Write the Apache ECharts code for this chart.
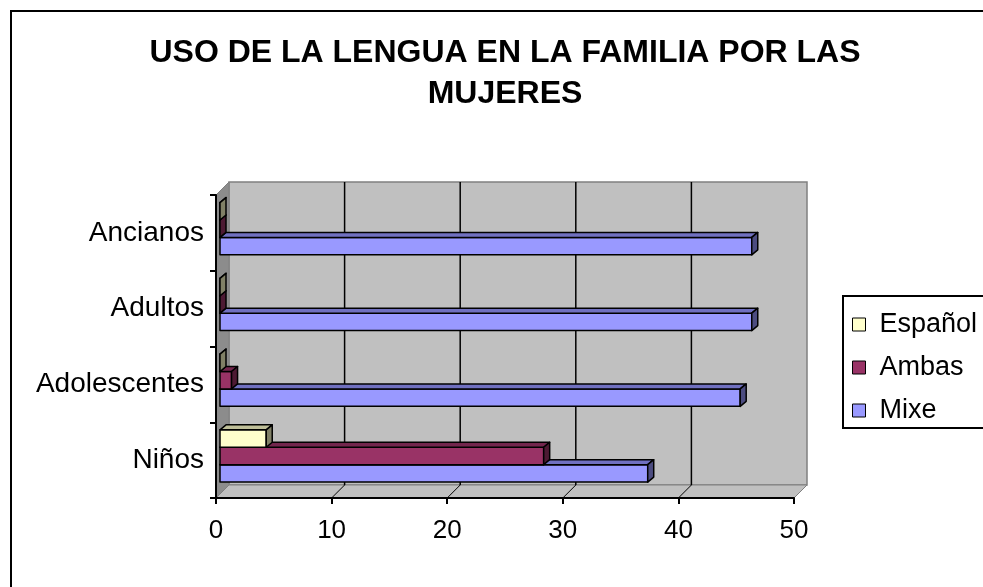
<!DOCTYPE html>
<html>
<head>
<meta charset="utf-8">
<script src="https://cdn.jsdelivr.net/npm/echarts@6/dist/echarts.min.js"></script>
<style>
  html, body { margin: 0; padding: 0; background: #fff; }
  #chart { width: 983px; height: 587px; }
</style>
</head>
<body>
<div id="chart"></div>
<script>
// datos del grafico
const categories = ['Niños', 'Adolescentes', 'Adultos', 'Ancianos'];
const mixe = [37, 45, 46, 46];
const ambas = [28, 1, 0, 0];
const espanol = [4, 0, 0, 0];
const xTicks = [0, 10, 20, 30, 40, 50];

const FONT = 'Arial, "Liberation Sans", sans-serif';
const D = 13; // profundidad de las paredes

const chart = echarts.init(document.getElementById('chart'));

// paredes y piso en 3D
function renderWalls(params, api) {
  const cs = params.coordSys;
  const x = cs.x, y = cs.y, w = cs.width, h = cs.height;
  const children = [
    {
      type: 'rect',
      shape: { x: x + D, y: y - D, width: w, height: h },
      style: { fill: '#C0C0C0', stroke: '#808080', lineWidth: 1.5 }
    },
    {
      type: 'polygon',
      shape: { points: [[x, y], [x + D, y - D], [x + D, y + h - D], [x, y + h]] },
      style: { fill: '#8C8C8C', stroke: '#808080', lineWidth: 1 }
    },
    {
      type: 'polygon',
      shape: { points: [[x, y + h], [x + D, y + h - D], [x + w + D, y + h - D], [x + w, y + h]] },
      style: { fill: '#C0C0C0', stroke: '#808080', lineWidth: 1 }
    }
  ];
  xTicks.forEach(function (v) {
    const p = api.coord([v, 0]);
    if (v > 0 && v < 50) {
      children.push({
        type: 'line',
        shape: { x1: p[0] + D, y1: y - D, x2: p[0] + D, y2: y + h - D },
        style: { stroke: '#000', lineWidth: 1.5 }
      });
      children.push({
        type: 'line',
        shape: { x1: p[0], y1: y + h, x2: p[0] + D, y2: y + h - D },
        style: { stroke: '#000', lineWidth: 1 }
      });
    }
  });
  return { type: 'group', children: children };
}

// barra 3D: slot 0 = abajo
function barRenderer(slot, front, topc, side) {
  return function (params, api) {
    const v = api.value(0), ci = api.value(1);
    const start = api.coord([0, ci]);
    const end = api.coord([v, ci]);
    const band = api.size([0, 1])[1];
    const bh = band * 0.23;
    const bottom = start[1] + band * 0.29 - slot * bh;
    const top = bottom - bh;
    const x0 = start[0] + 4, x1 = end[0] + 4;
    const dx = 6, dy = 5;
    const st = { stroke: '#000', lineWidth: 1.5, lineJoin: 'round' };
    return {
      type: 'group',
      children: [
        {
          type: 'polygon',
          shape: { points: [[x0, top], [x1, top], [x1, bottom], [x0, bottom]] },
          style: Object.assign({ fill: front }, st)
        },
        {
          type: 'polygon',
          shape: { points: [[x0, top], [x0 + dx, top - dy], [x1 + dx, top - dy], [x1, top]] },
          style: Object.assign({ fill: topc }, st)
        },
        {
          type: 'polygon',
          shape: { points: [[x1, top], [x1 + dx, top - dy], [x1 + dx, bottom - dy], [x1, bottom]] },
          style: Object.assign({ fill: side }, st)
        }
      ]
    };
  };
}

function toData(arr) {
  return arr.map(function (v, i) { return [v, i]; });
}

const option = {
  animation: false,
  backgroundColor: '#fff',
  title: {
    text: 'USO DE LA LENGUA EN LA FAMILIA POR LAS\nMUJERES',
    left: 500,
    textAlign: 'center',
    top: 28,
    textStyle: {
      fontFamily: FONT,
      fontSize: 32,
      fontWeight: 'bold',
      color: '#000',
      lineHeight: 41
    }
  },
  graphic: [
    {
      type: 'rect',
      shape: { x: 11, y: 11, width: 1000, height: 600 },
      style: { fill: 'none', stroke: '#000', lineWidth: 2 },
      z: -1
    },
    {
      type: 'rect',
      shape: { x: 843, y: 296, width: 200, height: 132 },
      style: { fill: '#fff', stroke: '#000', lineWidth: 2 },
      z: 0
    }
  ],
  legend: {
    orient: 'vertical',
    left: 852,
    top: 311,
    padding: 0,
    itemWidth: 13,
    itemHeight: 13,
    itemGap: 16,
    icon: 'rect',
    data: ['Español', 'Ambas', 'Mixe'],
    itemStyle: { borderColor: '#000', borderWidth: 1 },
    textStyle: {
      fontFamily: FONT,
      fontSize: 27,
      color: '#000',
      padding: [0, 0, 0, 9]
    },
    z: 5
  },
  grid: {
    left: 216,
    top: 195,
    width: 578,
    height: 303
  },
  xAxis: {
    type: 'value',
    min: 0,
    max: 50,
    interval: 10,
    z: 5,
    splitLine: { show: false },
    axisLine: { show: true, lineStyle: { color: '#000', width: 2 } },
    axisTick: { show: true, length: 6, lineStyle: { color: '#000', width: 2 } },
    axisLabel: { fontFamily: FONT, fontSize: 26, color: '#000', margin: 20 }
  },
  yAxis: {
    type: 'category',
    data: categories,
    z: 5,
    axisLine: { show: true, lineStyle: { color: '#000', width: 2 } },
    axisTick: { show: true, length: 6, lineStyle: { color: '#000', width: 2 } },
    axisLabel: { fontFamily: FONT, fontSize: 28, color: '#000', margin: 12 }
  },
  series: [
    {
      type: 'custom',
      name: 'paredes',
      z: 1,
      silent: true,
      renderItem: renderWalls,
      data: [[0, 0]],
      encode: { x: 0, y: 1 }
    },
    {
      type: 'custom',
      name: 'Mixe',
      z: 2,
      itemStyle: { color: '#9999FF' },
      renderItem: barRenderer(0, '#9999FF', '#7070C0', '#4C4C80'),
      data: toData(mixe),
      encode: { x: 0, y: 1 }
    },
    {
      type: 'custom',
      name: 'Ambas',
      z: 3,
      itemStyle: { color: '#993366' },
      renderItem: barRenderer(1, '#993366', '#73264D', '#4D1A33'),
      data: toData(ambas),
      encode: { x: 0, y: 1 }
    },
    {
      type: 'custom',
      name: 'Español',
      z: 4,
      itemStyle: { color: '#FFFFCC' },
      renderItem: barRenderer(2, '#FFFFCC', '#BFBF99', '#808066'),
      data: toData(espanol),
      encode: { x: 0, y: 1 }
    }
  ]
};

chart.setOption(option);
</script>
</body>
</html>
